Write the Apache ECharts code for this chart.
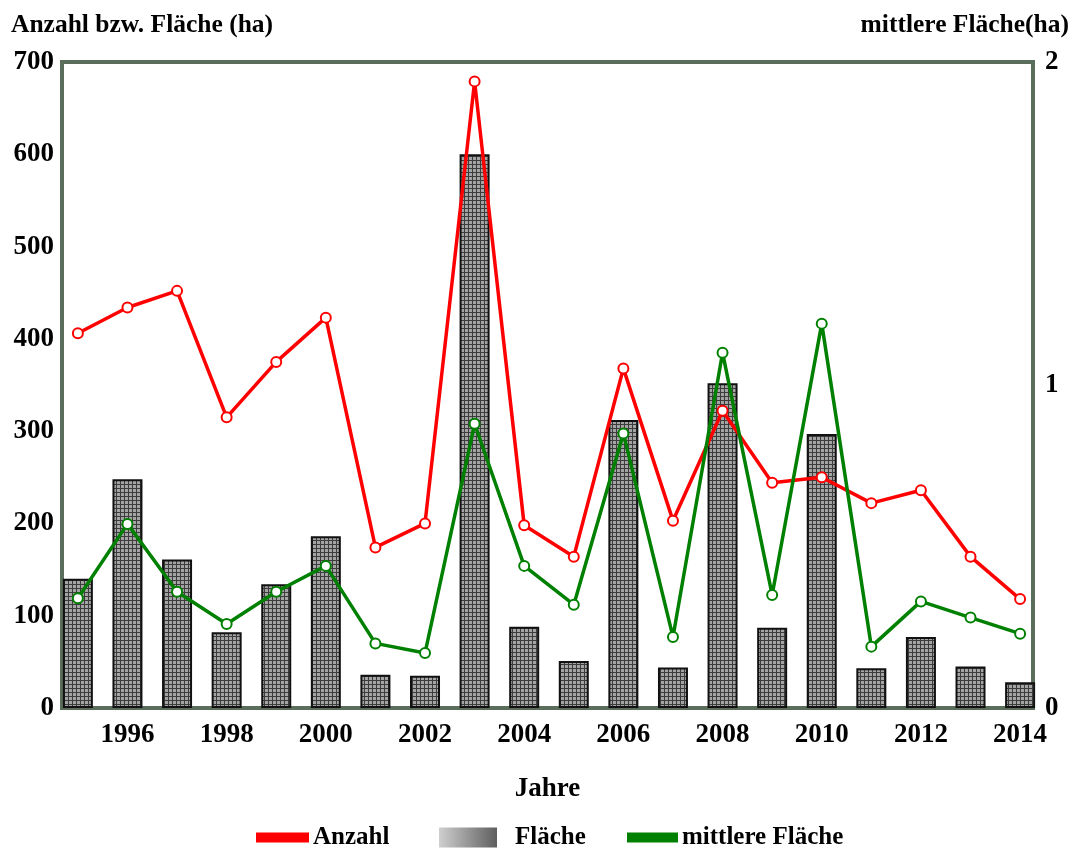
<!DOCTYPE html>
<html>
<head>
<meta charset="utf-8">
<script src="https://cdn.jsdelivr.net/npm/echarts@6/dist/echarts.min.js"></script>
<style>
  html, body { margin: 0; padding: 0; background: #fff; }
  #chart { width: 1082px; height: 849px; }
</style>
</head>
<body>
<div id="chart"></div>
<script>
// Jahre 1995–2014
const years = [1995, 1996, 1997, 1998, 1999, 2000, 2001, 2002, 2003, 2004,
  2005, 2006, 2007, 2008, 2009, 2010, 2011, 2012, 2013, 2014];
const yearLabels = [1996, 1998, 2000, 2002, 2004, 2006, 2008, 2010, 2012, 2014];

// Fläche (ha) – Balken, linke Achse
const flaeche = [140, 248, 161, 82, 134, 186, 36, 35, 600, 88,
  51, 312, 44, 352, 87, 297, 43, 77, 45, 28];
// Anzahl – rote Linie, linke Achse
const anzahl = [406, 434, 452, 315, 375, 423, 174, 200, 679, 198,
  164, 368, 203, 322, 244, 250, 222, 236, 164, 118];
// mittlere Fläche (ha) – grüne Linie, rechte Achse
const mittlere = [0.34, 0.57, 0.36, 0.26, 0.36, 0.44, 0.2, 0.17, 0.88, 0.44,
  0.32, 0.85, 0.22, 1.1, 0.35, 1.19, 0.19, 0.33, 0.28, 0.23];

const FONT = "'Liberation Serif', 'Times New Roman', serif";
const FRAME = "#5b6e5b";

// fine crosshatch fill for the bars
function hatch() {
  const c = document.createElement("canvas");
  c.width = 4; c.height = 4;
  const g = c.getContext("2d");
  g.fillStyle = "#a4a4a4";
  g.fillRect(0, 0, 4, 4);
  g.fillStyle = "#3c3c3c";
  g.fillRect(0, 0, 4, 1);
  g.fillRect(0, 0, 1, 4);
  return c;
}

const chart = echarts.init(document.getElementById("chart"));

const bold = (size) => ({ fontFamily: FONT, fontWeight: "bold", fontSize: size, color: "#000" });
const tickStyle = bold(27);

chart.setOption({
  animation: false,
  title: [
    { text: "Anzahl bzw. Fläche (ha)", left: 6, top: 7, textStyle: bold(25.5) },
    { text: "mittlere Fläche(ha)", right: 8, top: 7, textStyle: bold(25.5) }
  ],
  grid: {
    left: 62, right: 49, top: 62, bottom: 141,
    show: true, borderColor: FRAME, borderWidth: 4, backgroundColor: "transparent"
  },
  legend: [
    {
      data: [{ name: "Anzahl", icon: "rect" }],
      left: 256, top: 825, padding: 0, itemWidth: 51, itemHeight: 8, itemGap: 0,
      textStyle: bold(25), selectedMode: false
    },
    {
      data: [{
        name: "Fläche", icon: "rect",
        itemStyle: {
          color: new echarts.graphic.LinearGradient(0, 0, 1, 0, [
            { offset: 0, color: "#cfcfcf" }, { offset: 1, color: "#5e5e5e" }
          ]),
          borderWidth: 0
        }
      }],
      left: 439, top: 825, padding: 0, itemWidth: 58, itemHeight: 20, itemGap: 0,
      textStyle: Object.assign(bold(25), { padding: [0, 0, 0, 13] }), selectedMode: false
    },
    {
      data: [{ name: "mittlere Fläche", icon: "rect" }],
      left: 627, top: 825, padding: 0, itemWidth: 49, itemHeight: 8, itemGap: 0,
      textStyle: bold(25), selectedMode: false
    }
  ],
  xAxis: {
    type: "value",
    min: 1994.68,
    max: 2014.26,
    name: "Jahre",
    nameLocation: "middle",
    nameGap: 68,
    nameTextStyle: bold(27),
    axisLine: { show: true, lineStyle: { color: FRAME, width: 4 } },
    axisTick: { show: false },
    splitLine: { show: false },
    axisLabel: Object.assign({ customValues: yearLabels, margin: 14, formatter: v => String(v) }, tickStyle)
  },
  yAxis: [
    {
      type: "value", min: 0, max: 700, interval: 100,
      axisLine: { show: true, lineStyle: { color: FRAME, width: 4 } },
      axisTick: { show: false },
      splitLine: { show: false },
      axisLabel: Object.assign({ margin: 8 }, tickStyle)
    },
    {
      type: "value", min: 0, max: 2, interval: 1, position: "right",
      axisLine: { show: true, lineStyle: { color: FRAME, width: 4 } },
      axisTick: { show: false },
      splitLine: { show: false },
      axisLabel: Object.assign({ margin: 12 }, tickStyle)
    }
  ],
  series: [
    {
      name: "Fläche",
      type: "bar",
      yAxisIndex: 0,
      barWidth: 30,
      data: years.map((y, i) => [y, flaeche[i]]),
      itemStyle: {
        color: { image: hatch(), repeat: "repeat" },
        borderColor: "#111",
        borderWidth: 2
      },
      z: 2
    },
    {
      name: "Anzahl",
      type: "line",
      yAxisIndex: 0,
      data: years.map((y, i) => [y, anzahl[i]]),
      symbol: "emptyCircle",
      symbolSize: 10,
      lineStyle: { color: "#ff0000", width: 3.5 },
      itemStyle: { color: "#ff0000", borderColor: "#ff0000", borderWidth: 3 },
      z: 3
    },
    {
      name: "mittlere Fläche",
      type: "line",
      yAxisIndex: 1,
      data: years.map((y, i) => [y, mittlere[i]]),
      symbol: "emptyCircle",
      symbolSize: 10,
      lineStyle: { color: "#008000", width: 3.5 },
      itemStyle: { color: "#008000", borderColor: "#008000", borderWidth: 3 },
      z: 4
    }
  ]
});
</script>
</body>
</html>
